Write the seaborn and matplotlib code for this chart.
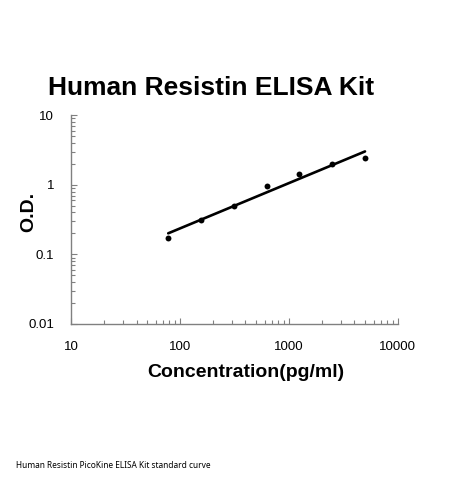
import numpy as np
import pandas as pd
import matplotlib
matplotlib.use("Agg")
import matplotlib.pyplot as plt
import seaborn as sns
from matplotlib.ticker import LogLocator, NullFormatter, FixedLocator, FixedFormatter

# standard curve data
conc = [78.125, 156.25, 312.5, 625, 1250, 2500, 5000]
od = [0.173, 0.313, 0.492, 0.953, 1.44, 1.97, 2.40]

x_ticks = [10, 100, 1000, 10000]
x_labels = ["10", "100", "1000", "10000"]
y_ticks = [0.01, 0.1, 1, 10]
y_labels = ["0.01", "0.1", "1", "10"]

title = "Human Resistin ELISA Kit"
x_title = "Concentration(pg/ml)"
y_title = "O.D."
caption = "Human Resistin PicoKine ELISA Kit standard curve"

df = pd.DataFrame({"conc": conc, "od": od})

# power fit in log-log space
slope, icpt = np.polyfit(np.log10(df["conc"]), np.log10(df["od"]), 1)
fit_x = np.logspace(np.log10(conc[0]), np.log10(conc[-1]), 50)
fit = pd.DataFrame({"conc": fit_x, "od": 10 ** (icpt + slope * np.log10(fit_x))})

sns.set_style("white")
plt.rcParams["font.family"] = ["Liberation Sans", "DejaVu Sans"]
plt.rcParams["text.color"] = "black"

fig = plt.figure(figsize=(4.49, 4.8), dpi=100)
ax = fig.add_axes([0.158, 0.325, 0.728, 0.435])

sns.lineplot(data=fit, x="conc", y="od", ax=ax, color="black", linewidth=1.9)
sns.scatterplot(data=df, x="conc", y="od", ax=ax, color="black", s=18,
                edgecolor="black", linewidth=0, zorder=3)

ax.set_xscale("log")
ax.set_yscale("log")
ax.set_xlim(10, 10000)
ax.set_ylim(0.01, 10)

ax.xaxis.set_major_locator(FixedLocator(x_ticks))
ax.xaxis.set_major_formatter(FixedFormatter(x_labels))
ax.yaxis.set_major_locator(FixedLocator(y_ticks))
ax.yaxis.set_major_formatter(FixedFormatter(y_labels))
ax.xaxis.set_minor_locator(LogLocator(base=10, subs=np.arange(2, 10), numticks=30))
ax.yaxis.set_minor_locator(LogLocator(base=10, subs=np.arange(2, 10), numticks=30))
ax.xaxis.set_minor_formatter(NullFormatter())
ax.yaxis.set_minor_formatter(NullFormatter())

# seaborn's white style switches ticks off, turn them back on (inside)
ax.tick_params(axis="both", which="both", bottom=True, left=True, direction="in")
ax.tick_params(axis="both", which="major", length=4, width=0.8,
               color="#808080", labelsize=9.5, pad=12, labelcolor="black")
ax.tick_params(axis="both", which="minor", length=3, width=0.8, color="#808080")

for side in ["top", "right"]:
    ax.spines[side].set_visible(False)
for side in ["left", "bottom"]:
    ax.spines[side].set_color("#808080")
    ax.spines[side].set_linewidth(1.0)

ax.set_xlabel("")
ax.set_ylabel("")
fig.text(0.547, 0.223, x_title, ha="center", va="center", fontsize=14, fontweight="bold")
fig.text(0.063, 0.558, y_title, ha="center", va="center", rotation=90,
         fontsize=14, fontweight="bold")

fig.text(0.47, 0.816, title, ha="center", va="center", fontsize=19, fontweight="bold")
fig.text(0.036, 0.031, caption, ha="left", va="center", fontsize=6,
         family=["Noto Sans", "DejaVu Sans"])

fig.savefig("out.png", dpi=100)
